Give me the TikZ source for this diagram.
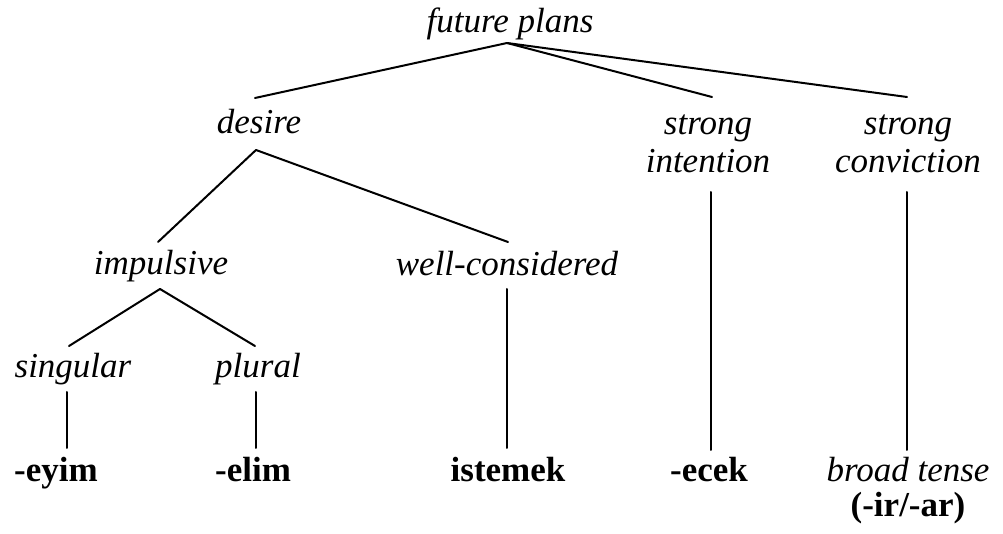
\documentclass[tikz,border=0pt]{standalone}
\usepackage{fontspec}
\setmainfont{Liberation Serif}
\begin{document}
\begin{tikzpicture}[x=0.5pt,y=-0.5pt,
  lbl/.style={inner sep=0pt,anchor=base,font=\fontsize{17.5pt}{19pt}\selectfont\itshape,align=center},
  form/.style={inner sep=0pt,anchor=base,font=\fontsize{17.5pt}{19pt}\selectfont\bfseries,align=center},
  edge/.style={line width=1pt,line cap=round}]
\useasboundingbox (0,0) rectangle (1003,534);
% nodes
\node[lbl] (fp) at (510,33) {future plans};
\node[lbl] (des) at (259,134) {desire};
\node[lbl] (si) at (708,173) {strong\\intention};
\node[lbl] (sc) at (908,173) {strong\\conviction};
\node[lbl] (imp) at (161,275) {impulsive};
\node[lbl] (wc) at (507,276) {well-considered};
\node[lbl] (sg) at (73,378) {singular};
\node[lbl] (pl) at (258,378) {plural};
\node[form] (ey) at (56,482) {-eyim};
\node[form] (el) at (253,482) {-elim};
\node[form] (ist) at (508,482) {istemek};
\node[form] (ec) at (709,482) {-ecek};
\node[lbl] (bt) at (908,482) {broad tense};
\node[form] (irar) at (908,517) {(-ir/-ar)};
% attachment points
\coordinate (fpB) at (507,43);
\coordinate (desT) at (255,98);
\coordinate (desB) at (256,150);
\coordinate (siT) at (712,97);
\coordinate (siB) at (711,192);
\coordinate (scT) at (907,97);
\coordinate (scB) at (907,192);
\coordinate (impT) at (158,242);
\coordinate (impB) at (160,289);
\coordinate (wcT) at (508,242);
\coordinate (wcB) at (507,289);
\coordinate (sgT) at (69,346);
\coordinate (sgB) at (67,392);
\coordinate (plT) at (255,346);
\coordinate (plB) at (256,392);
\coordinate (eyT) at (67,448);
\coordinate (elT) at (256,448);
\coordinate (istT) at (507,448);
\coordinate (ecT) at (711,450);
\coordinate (btT) at (907,450);
% connectors
\draw[edge] (fpB) -- (desT);
\draw[edge] (fpB) -- (siT);
\draw[edge] (fpB) -- (scT);
\draw[edge] (desB) -- (impT);
\draw[edge] (desB) -- (wcT);
\draw[edge] (impB) -- (sgT);
\draw[edge] (impB) -- (plT);
\draw[edge] (sgB) -- (eyT);
\draw[edge] (plB) -- (elT);
\draw[edge] (wcB) -- (istT);
\draw[edge] (siB) -- (ecT);
\draw[edge] (scB) -- (btT);
\end{tikzpicture}
\end{document}
